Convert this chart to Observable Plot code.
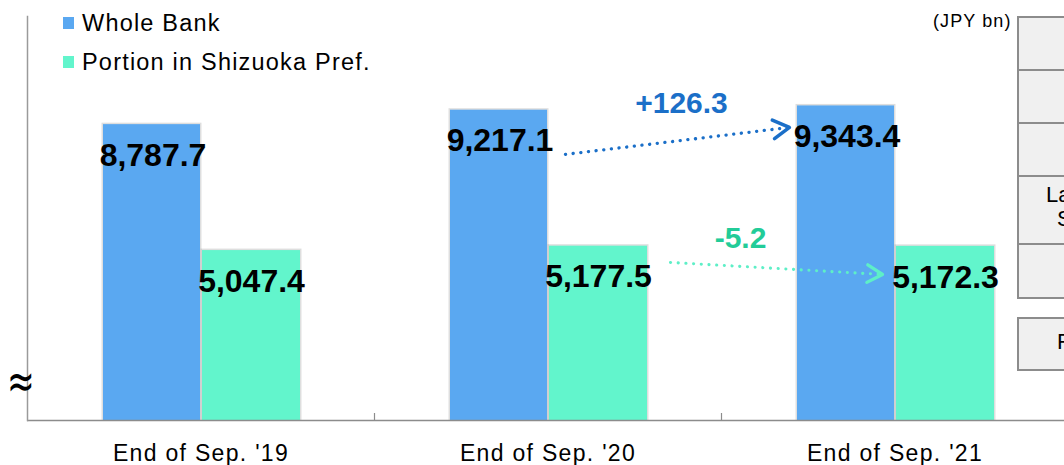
<!DOCTYPE html>
<html>
<head>
<meta charset="utf-8">
<script src="https://cdn.jsdelivr.net/npm/d3@7"></script>
<script src="https://cdn.jsdelivr.net/npm/@observablehq/plot@0.6"></script>
<style>
  html, body { margin: 0; padding: 0; background: #fff; }
  body { width: 1064px; height: 465px; overflow: hidden; position: relative; font-family: "Liberation Sans", Arial, sans-serif; }
  #chart { position: absolute; left: 0; top: 0; }
  #chart g[aria-label="x-axis tick label"] text { letter-spacing: 1.3px; }
  .legend { position: absolute; left: 63px; top: 0; font-size: 23.5px; letter-spacing: 1.2px; color: #000; }
  .legend .row { position: absolute; left: 0; height: 28px; line-height: 28px; white-space: nowrap; display: flex; align-items: center; }
  .legend .sw { width: 11px; height: 12px; margin-right: 8px; flex: none; }
  .unit { position: absolute; left: 933px; top: 11px; font-size: 18px; letter-spacing: 1.1px; color: #000; white-space: nowrap; }
  .approx { position: absolute; left: 7px; top: 362px; height: 40px; font-family: "DejaVu Sans", sans-serif; font-size: 33px; line-height: 40px; color: #000; transform: scaleY(1.5); transform-origin: 50% 52%; }
  .cell { position: absolute; left: 1017px; width: 120px; box-sizing: border-box; border: 2px solid #8c8c8c; background: #f0f0f0; }
  .ctext { position: absolute; font-size: 22px; color: #000; white-space: nowrap; }
</style>
</head>
<body>
<div id="chart"></div>
<div class="cell" style="top:16px;height:56px"></div>
<div class="cell" style="top:69px;height:56px"></div>
<div class="cell" style="top:122px;height:56px"></div>
<div class="cell" style="top:175px;height:71px"></div>
<div class="cell" style="top:243px;height:56px"></div>
<div class="cell" style="top:317px;height:54px"></div>
<div class="ctext" style="left:1046px;top:182px">La</div>
<div class="ctext" style="left:1057px;top:206px">S</div>
<div class="ctext" style="left:1057px;top:329px">F</div>
<div class="unit">(JPY bn)</div>
<div class="legend" id="legend"></div>
<div class="approx">≈</div>
<script>
// ---- data ----
const categories = ["End of Sep. '19", "End of Sep. '20", "End of Sep. '21"];
const seriesNames = ["Whole Bank", "Portion in Shizuoka Pref."];
const wholeBank = [8787.7, 9217.1, 9343.4];
const shizuoka = [5047.4, 5177.5, 5172.3];
const seriesColors = ["#5aa8f1", "#62f5cc"];
const unitLabel = "(JPY bn)";

// ---- tables built from the arrays ----
const blueRows = categories.map((c, i) => ({cat: c, series: seriesNames[0], value: wholeBank[i]}));
const greenRows = categories.map((c, i) => ({cat: c, series: seriesNames[1], value: shizuoka[i]}));
const fmt = d3.format(",.1f");
const signed = d => (d >= 0 ? "+" : "-") + Math.abs(d).toFixed(1);
const blueChange = [{from: categories[1], to: categories[2], delta: wholeBank[2] - wholeBank[1]}];
const greenChange = [{from: categories[1], to: categories[2], delta: shizuoka[2] - shizuoka[1]}];

// legend (HTML, over the chart)
const legend = document.getElementById("legend");
seriesNames.forEach((name, i) => {
  const row = document.createElement("div");
  row.className = "row";
  row.style.top = (i === 0 ? 9 : 48) + "px";
  row.innerHTML = `<span class="sw" style="background:${seriesColors[i]}"></span><span>${name}</span>`;
  legend.appendChild(row);
});

const step = 347;
const blueInset = {insetLeft: 76, insetRight: 174};
const greenInset = {insetLeft: 175, insetRight: 74};
const blueArrowColor = "#1b6fc8";
const greenArrowColor = "#5eefc7";
const greenTextColor = "#22cc98";

const plot = Plot.plot({
  width: 1064,
  height: 465,
  marginLeft: 27,
  marginRight: 0,
  marginTop: 16,
  marginBottom: 45,
  style: {fontFamily: "'Liberation Sans', Arial, sans-serif", background: "transparent", overflow: "visible"},
  x: {domain: categories, range: [27, 1068], padding: 0, axis: null},
  y: {domain: [0, 12000], axis: null},
  marks: [
    // bar shadows
    Plot.barY(blueRows, {x: "cat", y: "value", fill: "#000", fillOpacity: 0.13, insetLeft: 74.5, insetRight: 172.5, insetTop: -1.5}),
    Plot.barY(greenRows, {x: "cat", y: "value", fill: "#000", fillOpacity: 0.13, insetLeft: 173.5, insetRight: 72.5, insetTop: -1.5}),
    // bars
    Plot.barY(blueRows, {x: "cat", y: "value", fill: seriesColors[0], ...blueInset}),
    Plot.barY(greenRows, {x: "cat", y: "value", fill: seriesColors[1], ...greenInset}),
    // baseline and left axis line
    Plot.ruleY([0], {stroke: "#8c8c8c", strokeWidth: 1.5}),
    Plot.frame({anchor: "left", stroke: "#9a9a9a", strokeWidth: 1.5}),
    // boundary ticks between categories
    Plot.ruleX(categories.slice(1), {x: d => d, dx: -step / 2, y1: 0, y2: 208, stroke: "#8c8c8c", strokeWidth: 1.2}),
    // category labels
    Plot.axisX({tickSize: 0, tickPadding: 24, fontSize: 23, label: null, fill: "#000"}),
    // value labels
    Plot.text(blueRows, {x: "cat", y: "value", text: d => fmt(d.value), dx: -48, dy: 31, fontSize: 32, fontWeight: "bold", fill: "#000"}),
    Plot.text(greenRows, {x: "cat", y: "value", text: d => fmt(d.value), dx: 50.5, dy: 31, fontSize: 32, fontWeight: "bold", fill: "#000"}),
    // change arrows: dotted shafts
    Plot.arrow(blueChange, {x1: "from", x2: "to", y1: () => 7841, y2: () => 9083, insetStart: 17.6, insetEnd: 106.3, headLength: 0,
      stroke: blueArrowColor, strokeWidth: 3.3, strokeDasharray: "0.1 7.6", strokeLinecap: "round"}),
    Plot.arrow(greenChange, {x1: "from", x2: "to", y1: () => 4901, y2: () => 4317, insetStart: 122.7, insetEnd: 12.5, headLength: 0,
      stroke: greenArrowColor, strokeWidth: 3.1, strokeDasharray: "0.1 7.6", strokeLinecap: "round"}),
    // change arrows: solid heads
    Plot.arrow(blueChange, {x1: "from", x2: "to", y1: () => 7841, y2: () => 9083, insetStart: 242.5, insetEnd: 106.3, headLength: 8,
      stroke: blueArrowColor, strokeWidth: 3.5}),
    Plot.arrow(greenChange, {x1: "from", x2: "to", y1: () => 4901, y2: () => 4317, insetStart: 334.4, insetEnd: 12.5, headLength: 8,
      stroke: greenArrowColor, strokeWidth: 3.3}),
    // change labels
    Plot.text(blueChange, {x: "from", y: () => 9416, text: d => signed(d.delta), dx: 133.5, fontSize: 30, fontWeight: "bold", fill: blueArrowColor}),
    Plot.text(greenChange, {x: "from", y: () => 5406, text: d => signed(d.delta), dx: 192.5, fontSize: 30, fontWeight: "bold", fill: greenTextColor})
  ]
});
document.getElementById("chart").appendChild(plot);
</script>
</body>
</html>
